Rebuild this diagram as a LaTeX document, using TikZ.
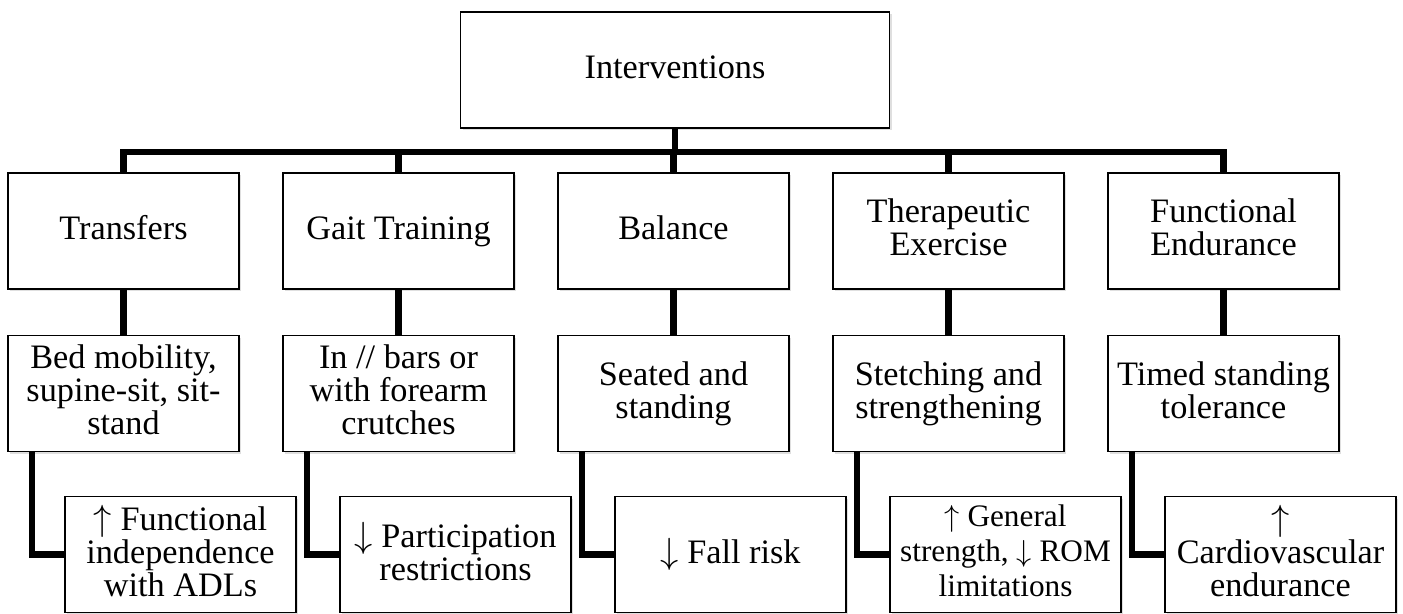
\documentclass[tikz,border=0pt]{standalone}
\usepackage{fontspec}
\setmainfont{Liberation Serif}
\usepackage{tikz}
\usetikzlibrary{shadows}
\newcommand\boxstrut{\rule[-4pt]{0pt}{18pt}}

\begin{document}
\begin{tikzpicture}[x=0.02cm,y=-0.02cm,
    box/.style={draw,line width=1pt,fill=white,align=center,
        minimum width=4.62cm,minimum height=2.32cm,inner sep=1pt,
        drop shadow={opacity=0.25,shadow xshift=1.2pt,shadow yshift=-1.2pt},
        font=\fontsize{19.5}{18.8}\selectfont,
        execute at begin node=\boxstrut,execute at end node=\boxstrut},
    link/.style={line width=3.6pt}]
        \useasboundingbox (0,0) rectangle (1403,614);
        \coordinate (bar) at (0,152);
        \node[box,minimum width=8.58cm] (top) at (675,70) {Interventions};
        \node[box] (t1) at (123.5,231) {Transfers};
        \node[box] (t2) at (398.5,231) {Gait Training};
        \node[box] (t3) at (673.5,231) {Balance};
        \node[box] (t4) at (948.5,231) {Therapeutic\\Exercise};
        \node[box] (t5) at (1223.5,231) {Functional\\Endurance};
        \node[box] (m1) at (123.5,393.5) {Bed mobility,\\supine-sit, sit-\\stand};
        \node[box] (m2) at (398.5,393.5) {In // bars or\\with forearm\\crutches};
        \node[box] (m3) at (673.5,393.5) {Seated and\\standing};
        \node[box] (m4) at (948.5,393.5) {Stetching and\\strengthening};
        \node[box] (m5) at (1223.5,393.5) {Timed standing\\tolerance};
        \node[box] (o1) at (180.5,554.5) {$\uparrow$ Functional\\independence\\with ADLs};
        \node[box] (o2) at (455.5,554.5) {$\downarrow$ Participation\\restrictions};
        \node[box] (o3) at (730.5,554.5) {$\downarrow$ Fall risk};
        \node[box,font=\fontsize{17.8}{20}\selectfont] (o4) at (1005.5,554.5) {$\uparrow$ General\\strength, $\downarrow$ ROM\\limitations};
        \node[box] (o5) at (1280.5,554.5) {$\uparrow$\\Cardiovascular\\endurance};
        \draw[link] (top.south) -- (top.south |- bar);
        \draw[link] (t1.north) |- (t5.north |- bar) -- (t5.north);
        \foreach \i in {2,3,4} \draw[link] (t\i.north) -- (t\i.north |- bar);
        \foreach \i in {1,...,5} {
            \draw[link] (t\i.south) -- (m\i.north);
            \draw[link] ([xshift=0.5cm]m\i.south west) |- (o\i.west);
        }
    \end{tikzpicture}
\end{document}
